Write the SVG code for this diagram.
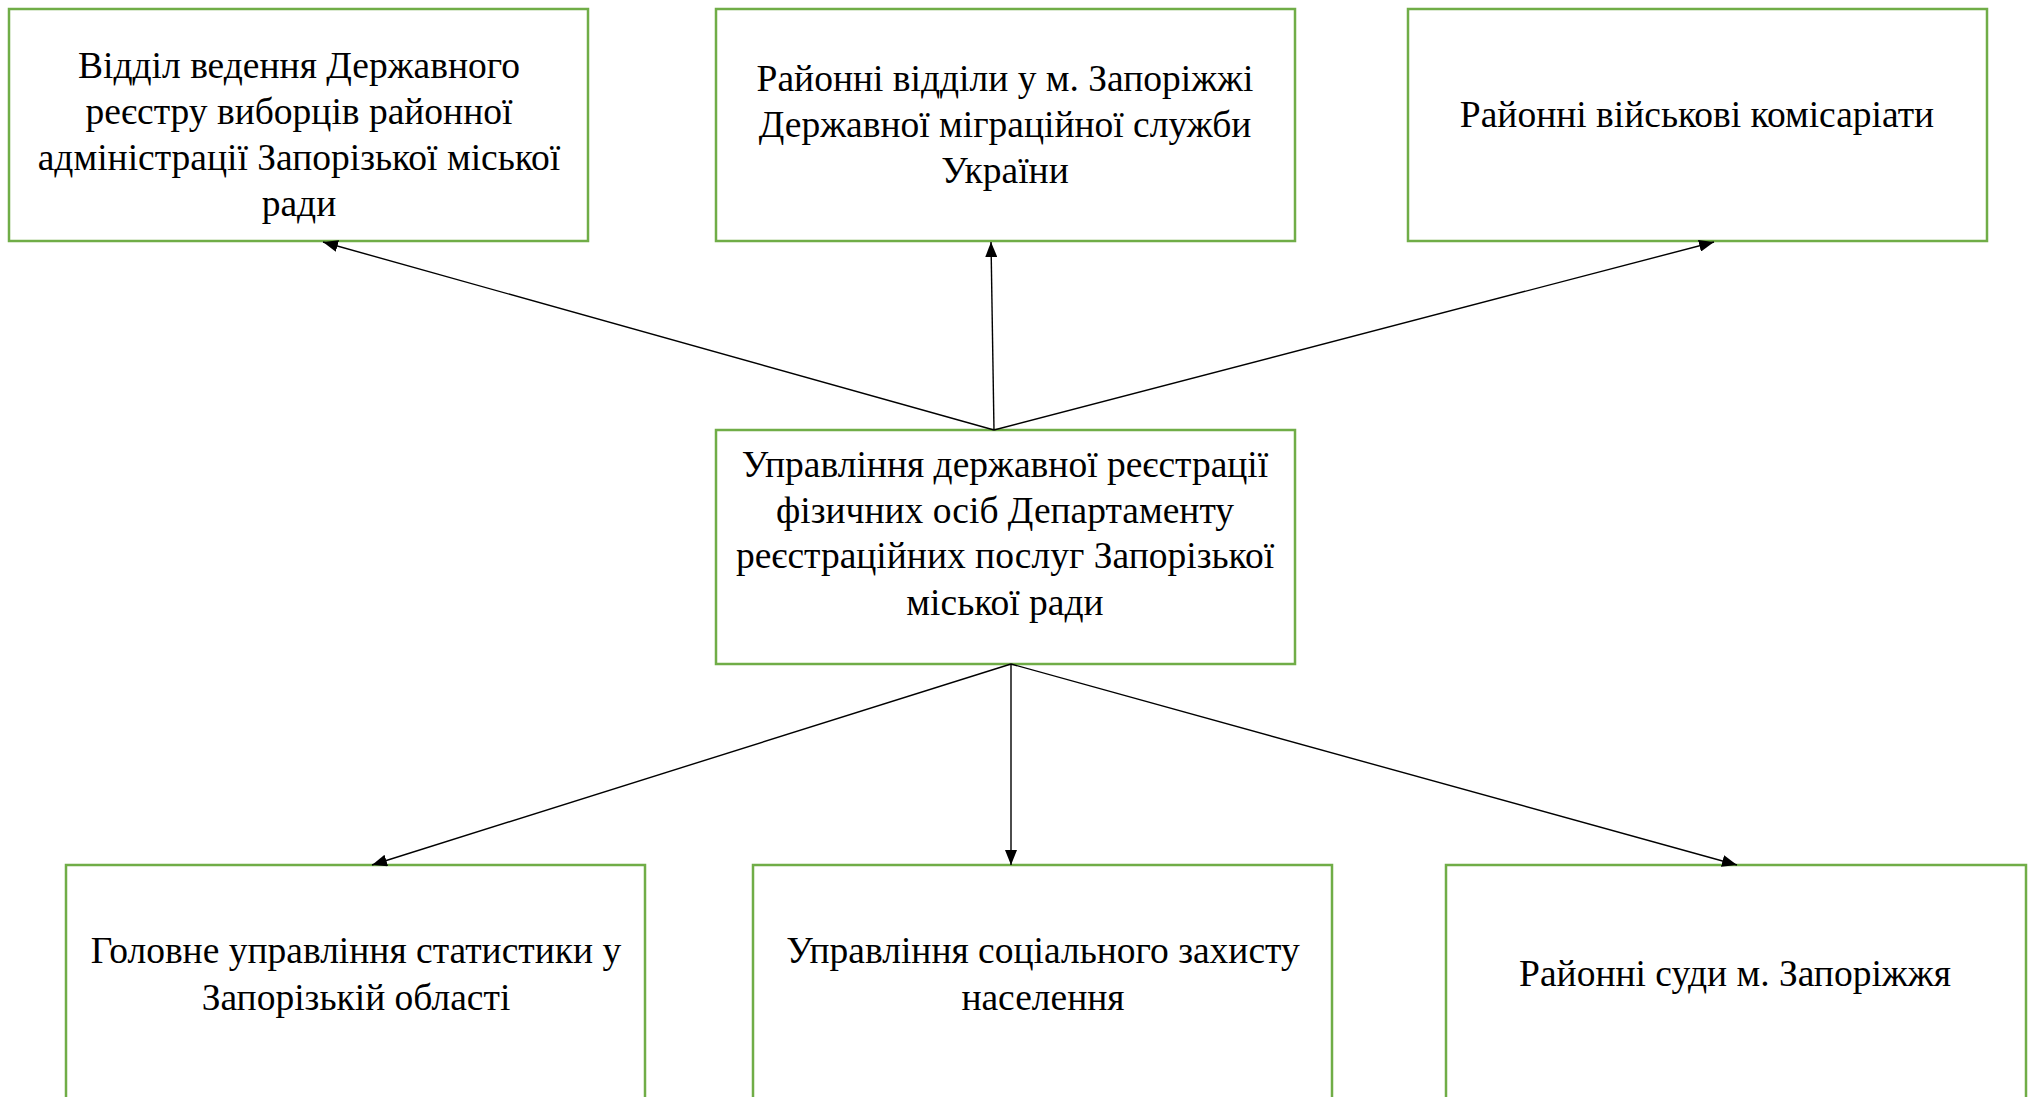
<svg xmlns="http://www.w3.org/2000/svg" width="2031" height="1097" viewBox="0 0 2031 1097">
<defs>
<style>
.box{fill:#fff;stroke:#70AD47;stroke-width:2.5}
.t{font-family:"Liberation Serif","Times New Roman",serif;font-size:37.5px;fill:#000;text-anchor:middle}
.c{stroke:#000;stroke-width:1.4;fill:none;marker-end:url(#ah)}
</style>
<marker id="ah" markerUnits="userSpaceOnUse" markerWidth="16" markerHeight="12" refX="15" refY="6" orient="auto">
<path d="M0,0 L15,6 L0,12 Z" fill="#000"/>
</marker>
</defs>
<rect width="2031" height="1097" fill="#fff"/>
<g id="n1"><rect class="box" x="9" y="9" width="579" height="232"/>
<text class="t" x="299" y="78">Відділ ведення Державного</text>
<text class="t" x="299" y="124">реєстру виборців районної</text>
<text class="t" x="299" y="170">адміністрації Запорізької міської</text>
<text class="t" x="299" y="216">ради</text></g>
<g id="n2"><rect class="box" x="716" y="9" width="579" height="232"/>
<text class="t" x="1005" y="91">Районні відділи у м. Запоріжжі</text>
<text class="t" x="1005" y="137">Державної міграційної служби</text>
<text class="t" x="1005" y="183">України</text></g>
<g id="n3"><rect class="box" x="1408" y="9" width="579" height="232"/>
<text class="t" x="1697" y="127">Районні військові комісаріати</text></g>
<g id="n4"><rect class="box" x="716" y="430" width="579" height="234"/>
<text class="t" x="1005" y="477">Управління державної реєстрації</text>
<text class="t" x="1005" y="523">фізичних осіб Департаменту</text>
<text class="t" x="1005" y="568">реєстраційних послуг Запорізької</text>
<text class="t" x="1005" y="615">міської ради</text></g>
<g id="n5"><rect class="box" x="66" y="865" width="579" height="260"/>
<text class="t" x="356" y="963">Головне управління статистики у</text>
<text class="t" x="356" y="1010">Запорізькій області</text></g>
<g id="n6"><rect class="box" x="753" y="865" width="579" height="260"/>
<text class="t" x="1043" y="963">Управління соціального захисту</text>
<text class="t" x="1043" y="1010">населення</text></g>
<g id="n7"><rect class="box" x="1446" y="865" width="580" height="260"/>
<text class="t" x="1735" y="986">Районні суди м. Запоріжжя</text></g>
<g id="connectors">
<line class="c" x1="994" y1="430" x2="323" y2="242"/>
<line class="c" x1="994" y1="430" x2="991" y2="242"/>
<line class="c" x1="994" y1="430" x2="1714" y2="242"/>
<line class="c" x1="1011" y1="664" x2="372" y2="865"/>
<line class="c" x1="1011" y1="664" x2="1011" y2="865"/>
<line class="c" x1="1011" y1="664" x2="1737" y2="865"/>
</g>
</svg>
